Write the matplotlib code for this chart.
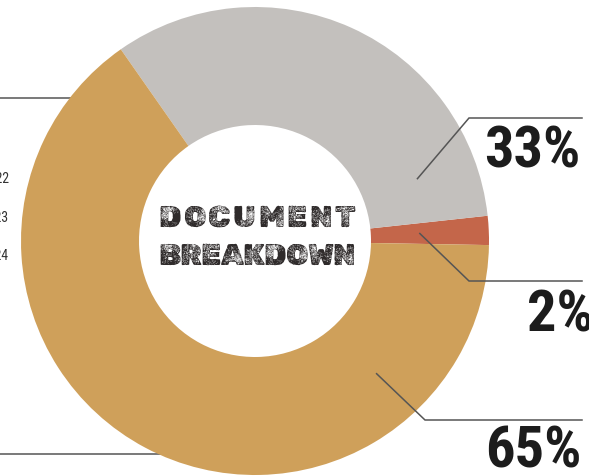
import numpy as np
import matplotlib
matplotlib.use("Agg")
import matplotlib.pyplot as plt

# document shares, drawn counter-clockwise from the start angle
shares = [2, 33, 65]
share_labels = ["2%", "33%", "65%"]
slice_colors = ["#c4664a", "#c3c0bd", "#cfa05a"]

# partly visible year column on the left
years = ["2022", "2023", "2024"]

title_lines = ["DOCUMENT", "BREAKDOWN"]

W, H = 589, 477
fig = plt.figure(figsize=(W / 100, H / 100), dpi=100)
ax = fig.add_axes([0, 0, 1, 1])
ax.set_xlim(0, W)
ax.set_ylim(0, H)

cx, cy = 255, 235
r_out, ring = 234, 118
num_font = ["Roboto Condensed", "DejaVu Sans"]

# guide lines running in from the left, behind the ring
ax.plot([0, 120], [H - 99, H - 99], color="#555555", lw=1.1, zorder=0)
ax.plot([0, 200], [H - 455, H - 455], color="#555555", lw=1.1, zorder=0)

wedges, _ = ax.pie(shares, colors=slice_colors, startangle=-1, counterclock=True,
                   radius=r_out, center=(cx, cy),
                   wedgeprops=dict(width=ring, edgecolor="none", linewidth=0))
for w in wedges:
    w.set_zorder(1)
ax.set_xlim(0, W)
ax.set_ylim(0, H)
ax.set_aspect("auto")
ax.axis("off")

# leader lines: anchor inside the slice, elbow, then out to the right
anchor_deg = [2.6, 21, 312.5]
anchor_r = [165, 174, 180]
elbows = [(469, H - 282), (469, H - 119), (425, H - 421)]
label_base = [(594, H - 332), (580, H - 167), (582, H - 468)]
line_end = 582

for ang, rr, (ex, ey), (tx, ty), lab in zip(anchor_deg, anchor_r, elbows,
                                             label_base, share_labels):
    ax0 = cx + rr * np.cos(np.radians(ang))
    ay0 = cy + rr * np.sin(np.radians(ang))
    ax.plot([ax0, ex, line_end], [ay0, ey, ey], color="#555555", lw=1.1,
            zorder=3, solid_joinstyle="miter")
    ax.text(tx, ty, lab, ha="right", va="baseline", fontsize=42,
            fontweight="bold", color="#1c1c1c", family=num_font, zorder=4)

# centre title: letters tracked out so both lines fill the same width
title_x0, title_w = 158, 197
title_base = [H - 227, H - 265]
renderer = fig.canvas.get_renderer()
for line, base in zip(title_lines, title_base):
    chars = [ax.text(0, base, ch, ha="left", va="baseline", fontsize=22,
                     color="#2f2b2b", family=["Rubik Dirt", "DejaVu Sans"],
                     zorder=4) for ch in line]
    widths = [t.get_window_extent(renderer).width for t in chars]
    gap = (title_w - sum(widths)) / (len(chars) - 1)
    x = title_x0
    for t, wd in zip(chars, widths):
        t.set_x(x)
        x += wd + gap

year_y = [H - 183, H - 222, H - 260]
for yr, yy in zip(years, year_y):
    ax.text(9, yy, yr, ha="right", va="baseline", fontsize=10,
            color="#333333", family=num_font)

fig.savefig("out.png", dpi=100, facecolor="white")
